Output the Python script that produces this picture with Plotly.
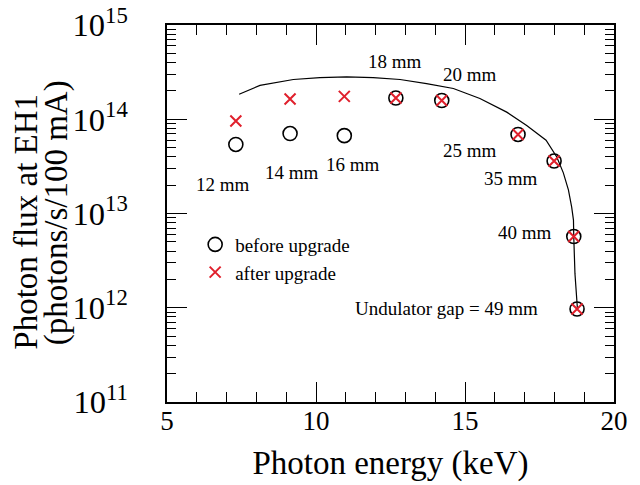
import plotly.graph_objects as go

# ---- data ----
gap_energy = [7.31, 9.13, 10.95, 12.68, 14.22, 16.78, 17.99, 18.65, 18.76]
flux_before = [5.4e13, 7.05e13, 6.7e13, 1.68e14, 1.58e14, 6.9e13, 3.6e13, 5.7e12, 9.7e11]
flux_after = [9.6e13, 1.64e14, 1.75e14, 1.68e14, 1.58e14, 6.9e13, 3.6e13, 5.7e12, 9.7e11]

curve_energy = [7.42, 8.12, 9.24, 10.13, 11.03, 11.92, 12.82, 13.71, 14.61, 15.50,
                16.40, 17.07, 17.72, 18.08, 18.30, 18.47, 18.58, 18.64, 18.65, 18.69, 18.77]
curve_flux = [1.84e14, 2.29e14, 2.64e14, 2.77e14, 2.81e14, 2.77e14, 2.64e14, 2.39e14, 2.12e14, 1.66e14,
              1.19e14, 8.6e13, 6.0e13, 3.98e13, 2.7e13, 1.78e13, 1.17e13, 8.5e12, 5.6e12, 2.3e12, 1.0e12]

gap_labels = ["12 mm", "14 mm", "16 mm", "18 mm", "20 mm", "25 mm", "35 mm", "40 mm",
              "Undulator gap = 49 mm"]
label_pos = [(6.89, 13.31), (9.20, 13.44), (11.25, 13.52), (12.65, 14.61), (15.17, 14.47),
             (15.17, 13.67), (16.53, 13.37), (17.01, 12.80), (14.39, 11.99)]

FONT = "Liberation Serif"
RED = "#e0202c"

fig = go.Figure()
fig.add_trace(go.Scatter(x=curve_energy, y=curve_flux, mode="lines",
                         line=dict(color="black", width=1.2), showlegend=False,
                         hoverinfo="skip"))
fig.add_trace(go.Scatter(x=gap_energy, y=flux_before, mode="markers", name="before upgrade",
                         marker=dict(symbol="circle-open", size=14, color="black",
                                     line=dict(width=1.6, color="black"))))
fig.add_trace(go.Scatter(x=gap_energy, y=flux_after, mode="markers", name="after upgrade",
                         marker=dict(symbol="x-thin-open", size=11, color=RED,
                                     line=dict(width=2, color=RED))))

for txt, (ax, ay) in zip(gap_labels, label_pos):
    fig.add_annotation(x=ax, y=ay, text=txt, showarrow=False,
                       font=dict(family=FONT, size=19, color="black"),
                       xanchor="center", yanchor="middle")

# y-axis title (two tight lines)
fig.add_annotation(xref="paper", yref="paper", x=-0.3143, y=0.477, text="Photon flux at EH1",
                   textangle=-90, showarrow=False, xanchor="center", yanchor="middle",
                   font=dict(family=FONT, size=33, color="black"))
fig.add_annotation(xref="paper", yref="paper", x=-0.248, y=0.501, text="(photons/s/100 mA)",
                   textangle=-90, showarrow=False, xanchor="center", yanchor="middle",
                   font=dict(family=FONT, size=33, color="black"))

fig.update_xaxes(range=[5, 20], tick0=5, dtick=5,
                 ticks="inside", ticklen=20, tickwidth=1, tickcolor="black",
                 showline=True, linecolor="black", linewidth=2, mirror="ticks",
                 showgrid=False, zeroline=False, automargin=False, ticklabelstandoff=-6,
                 ticklabeloverflow="allow",
                 tickfont=dict(family=FONT, size=27, color="black"),
                 minor=dict(dtick=1, ticks="inside", ticklen=10, tickwidth=1,
                            tickcolor="black", showgrid=False),
                 title=dict(text="Photon energy (keV)", standoff=15,
                            font=dict(family=FONT, size=33, color="black")))
fig.update_yaxes(type="log", range=[11 - 1e-6, 15 + 1e-6], dtick=1, exponentformat="power",
                 ticks="inside", ticklen=20, tickwidth=1, tickcolor="black",
                 showline=True, linecolor="black", linewidth=2, mirror="ticks",
                 showgrid=False, zeroline=False, automargin=False, ticklabelstandoff=32,
                 ticklabeloverflow="allow",
                 tickfont=dict(family=FONT, size=26, color="black"),
                 minor=dict(dtick="D1", ticks="inside", ticklen=9, tickwidth=1,
                            tickcolor="black", showgrid=False))

fig.update_layout(width=640, height=485, margin=dict(l=159, r=34, t=17, b=91),
                  paper_bgcolor="white", plot_bgcolor="white",
                  font=dict(family=FONT, color="black"),
                  legend=dict(x=0.063, y=0.468, xanchor="left", yanchor="top",
                              bgcolor="rgba(0,0,0,0)", tracegroupgap=0,
                              font=dict(family=FONT, size=19, color="black")))

fig.write_html("out.html")
